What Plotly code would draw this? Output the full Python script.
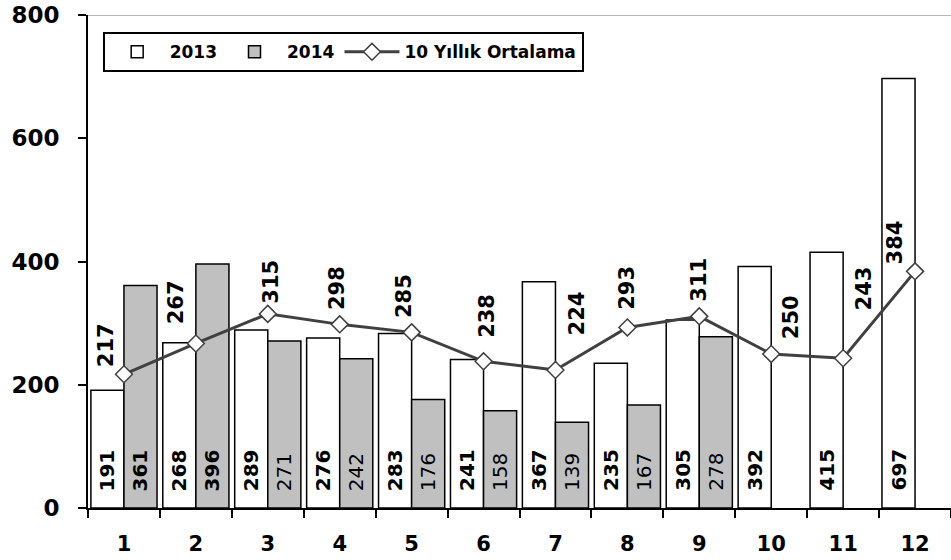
import plotly.graph_objects as go

months = ["1", "2", "3", "4", "5", "6", "7", "8", "9", "10", "11", "12"]
values_2013 = [191, 268, 289, 276, 283, 241, 367, 235, 305, 392, 415, 697]
values_2014 = [361, 396, 271, 242, 176, 158, 139, 167, 278, None, None, None]
avg_10y = [217, 267, 315, 298, 285, 238, 224, 293, 311, 250, 243, 384]
y_ticks = [0, 200, 400, 600, 800]

# label styling (offsets in px, bold flags)
avg_xshift = [-18, -19, 3, -2, -7, 4, 21, 0, 0, 20, 21, -20]
avg_yshift = [5, 17, 8, 12, 12, 21, 33, 16, 13, 13, 46, 5]
bold_2014 = [True, True, False, False, False, False, False, False, False, False, False, False]

FONT = "DejaVu Sans"
BAR_HALF = 16.5

fig = go.Figure()
fig.add_trace(go.Bar(
    x=months, y=values_2013, name="2013",
    marker=dict(color="white", line=dict(color="black", width=1.5)),
))
fig.add_trace(go.Bar(
    x=months, y=values_2014, name="2014",
    marker=dict(color="#C0C0C0", line=dict(color="black", width=1.5)),
))
fig.add_trace(go.Scatter(
    x=months, y=avg_10y, name="10 Yıllık Ortalama", mode="lines+markers",
    line=dict(color="#404040", width=3),
    marker=dict(symbol="diamond", size=13, color="white", line=dict(color="#404040", width=1.5)),
))

ann = []
for i, m in enumerate(months):
    ann.append(dict(x=i, y=0, xref="x", yref="y", text=f"<b>{values_2013[i]}</b>",
                    textangle=-90, showarrow=False, xanchor="center", yanchor="bottom",
                    xshift=-BAR_HALF, yshift=15, font=dict(family=FONT, size=20, color="black")))
    if values_2014[i] is not None:
        t = f"<b>{values_2014[i]}</b>" if bold_2014[i] else f"{values_2014[i]}"
        ann.append(dict(x=i, y=0, xref="x", yref="y", text=t,
                        textangle=-90, showarrow=False, xanchor="center", yanchor="bottom",
                        xshift=BAR_HALF, yshift=15, font=dict(family=FONT, size=20, color="black")))
    ann.append(dict(x=i, y=avg_10y[i], xref="x", yref="y", text=f"<b>{avg_10y[i]}</b>",
                    textangle=-90, showarrow=False, xanchor="center", yanchor="bottom",
                    xshift=avg_xshift[i], yshift=avg_yshift[i],
                    font=dict(family=FONT, size=21, color="black")))

fig.update_layout(
    width=951, height=560,
    margin=dict(l=88, r=0, t=15, b=52),
    paper_bgcolor="white", plot_bgcolor="white",
    barmode="group", bargap=0.08, bargroupgap=0,
    font=dict(family=FONT, color="black"),
    showlegend=True,
    legend=dict(orientation="h", x=0.017, y=0.965, xanchor="left", yanchor="top",
                bgcolor="white", bordercolor="black", borderwidth=2,
                font=dict(family=FONT, size=17, color="black", weight="bold"),
                itemwidth=55, traceorder="normal"),
    annotations=ann,
    shapes=[dict(type="line", xref="paper", yref="y", x0=0, x1=1, y0=800, y1=800,
                 line=dict(color="#A0A0A0", width=1.5))],
)
fig.update_xaxes(
    type="category", range=[-0.5, 11.5], automargin=False,
    showline=True, linecolor="black", linewidth=2,
    ticks="outside", tickson="boundaries", ticklen=8, tickwidth=1.5, tickcolor="black",
    tickfont=dict(family=FONT, size=21, color="black", weight="bold"),
    ticklabelstandoff=16, showgrid=False, zeroline=False,
)
fig.update_yaxes(
    range=[0, 800], tickvals=y_ticks, ticktext=[str(v) for v in y_ticks], automargin=False,
    showline=True, linecolor="black", linewidth=2,
    ticks="outside", ticklen=8, tickwidth=1.5, tickcolor="black",
    tickfont=dict(family=FONT, size=23, color="black", weight="bold"),
    ticklabelstandoff=14, showgrid=False, zeroline=False,
)

fig.write_html("out.html", config={"displayModeBar": False},
               post_script="document.body.style.margin='0';")
